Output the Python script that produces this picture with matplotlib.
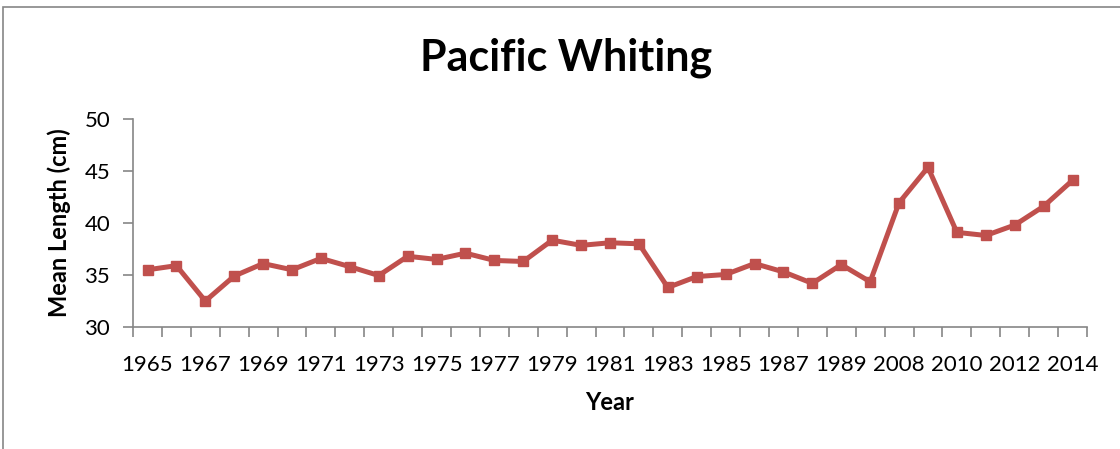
import matplotlib.pyplot as plt
import numpy as np
from matplotlib.patches import Rectangle

plt.rcParams['font.family'] = ['Lato', 'DejaVu Sans']

years = [str(y) for y in range(1965, 1991)] + [str(y) for y in range(2008, 2015)]
mean_length = [35.5, 35.9, 32.5, 34.9, 36.1, 35.5, 36.6, 35.8, 34.95, 36.8,
               36.5, 37.1, 36.4, 36.3, 38.35, 37.85, 38.1, 38.0, 33.8, 34.85,
               35.05, 36.1, 35.3, 34.2, 36.0, 34.35, 41.95, 45.35, 39.1, 38.8,
               39.8, 41.6, 44.1]
y_ticks = [30, 35, 40, 45, 50]

red = '#C0504D'
grey = '#868686'

fig = plt.figure(figsize=(11.2, 4.49), dpi=100)
ax = fig.add_axes([0.1188, 0.2717, 0.8517, 0.4633])

x = np.arange(len(years))
ax.plot(x, mean_length, color=red, lw=3.6, marker='s', ms=7,
        markerfacecolor=red, markeredgecolor=red, solid_joinstyle='miter')

ax.set_xlim(-0.5, len(years) - 0.5)
ax.set_ylim(30, 50)
ax.set_yticks(y_ticks)

# labels on every other year, tick marks between categories
ax.set_xticks(x[::2])
ax.set_xticklabels(years[::2])
ax.set_xticks(np.arange(len(years) + 1) - 0.5, minor=True)
ax.tick_params(axis='x', which='major', length=0, pad=20, labelsize=16)
ax.tick_params(axis='x', which='minor', length=7.5, width=1.2, color=grey)
ax.tick_params(axis='y', length=7.5, width=1.2, color=grey, labelsize=16, pad=9)

for s in ['top', 'right']:
    ax.spines[s].set_visible(False)
for s in ['left', 'bottom']:
    ax.spines[s].set_color(grey)
    ax.spines[s].set_linewidth(1.2)

fig.text(0.505, 1 - 70 / 449, 'Pacific Whiting', fontsize=31, fontweight='bold',
         ha='center', va='baseline')
ax.set_xlabel('Year', fontsize=17, fontweight='bold', labelpad=12)
ax.set_ylabel('Mean Length (cm)', fontsize=17, fontweight='bold', labelpad=10)

# chart area border
fig.patches.append(Rectangle((3 / 1120, -0.1), 1.2, 1 - 7 / 449 + 0.1,
                             transform=fig.transFigure, fill=False,
                             edgecolor=grey, lw=1.2))

fig.savefig('out.png', dpi=100)
